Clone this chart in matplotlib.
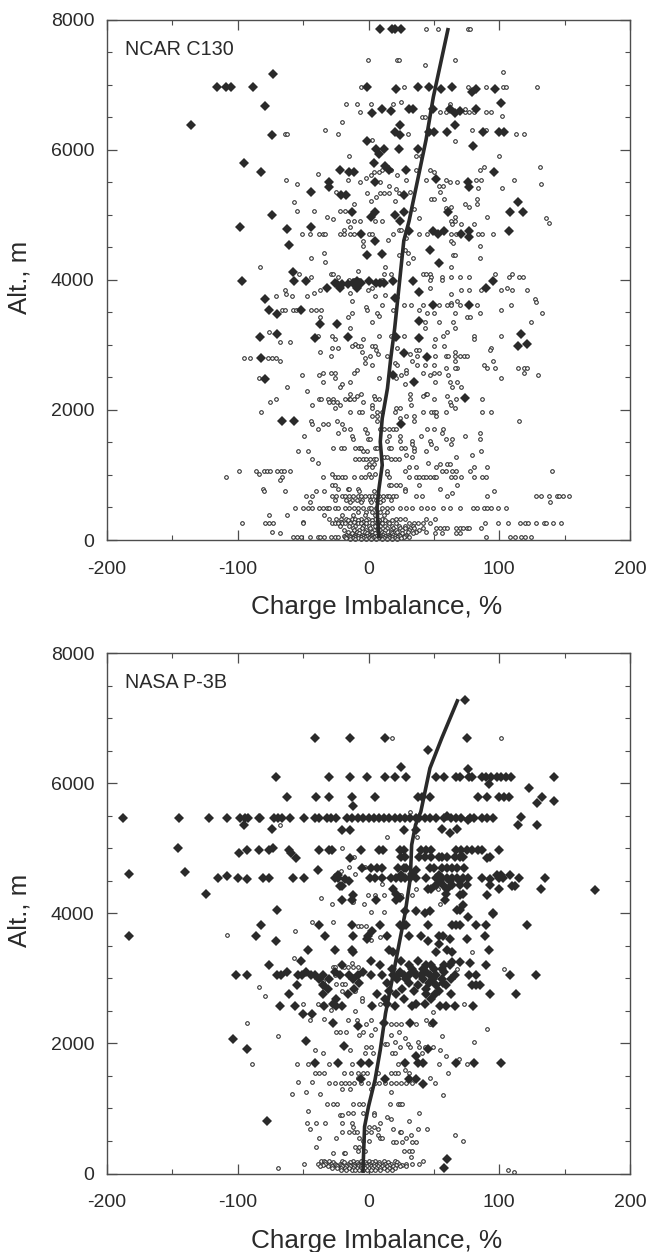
import matplotlib
import matplotlib.pyplot as plt
from matplotlib.ticker import MultipleLocator

matplotlib.use("Agg")

plt.rcParams["font.family"] = ["Liberation Sans", "DejaVu Sans"]
plt.rcParams["axes.unicode_minus"] = False

X_TICKS = [-200, -100, 0, 100, 200]
Y_TICKS = [0, 2000, 4000, 6000, 8000]
DARK = "#2a2a2a"
AXIS_GREY = "#4d4d4d"

# fitted profile lines, (charge imbalance, altitude)
c130_line_x = [8, 6.5, 8, 10.5, 9, 10.5, 14.5, 17, 20, 24, 27, 31, 44, 49.6, 61]
c130_line_alt = [25, 490, 790, 1150, 1510, 1870, 2330, 2790, 3250, 4020, 4600, 4900, 6150, 6810, 7870]
p3b_line_x = [-4.3, -3, 0, 5, 9, 13, 18.6, 24, 28, 32, 33, 36, 40, 47, 56, 68.5]
p3b_line_alt = [10, 720, 1030, 1440, 1900, 2460, 3030, 3590, 4000, 4540, 5050, 5360, 5560, 6230, 6690, 7290]

# rows of (altitude, [charge imbalance, ...])
c130_big_high = [
    (7850, [9, 18, 20, 24.5]), (7170, [-73]), (6955, [-116, -109, -105, -88, -1, 38, 46, 64]),
    (6935, [21, 55.5, 82, 96.5]), (6890, [79]), (6720, [101]), (6670, [-79]),
    (6630, [10, 31, 34, 49, 62, 82]), (6600, [17, 70]), (6570, [3, 66]), (6380, [-136, 24, 66]),
    (6270, [20, 46, 50, 60, 87.5, 99.5, 103.5]), (6225, [-74, 24]), (6135, [-1]), (6055, [80]),
    (6010, [5.4, 12, 23, 38]), (5940, [8.4]), (5800, [-95, 4]), (5750, [13]),
    (5690, [-22, 16, 29]), (5660, [-82, -15, -11, 96]), (5550, [52]), (5510, [-30, 5, 76]),
    (5420, [-30, 77]), (5350, [-44]), (5310, [-21, -17, 27]), (5190, [114]),
    (5045, [-13, 5, 27, 61, 108.6, 118]), (5000, [-74, 20]), (4970, [2]), (4900, [24]),
    (4810, [-98, -44]), (4780, [-62]), (4755, [31, 49, 58, 76.5, 107.5]), (4710, [-6, 53, 71]),
    (4650, [77]), (4600, [5]), (4530, [-61]), (4460, [47]), (4400, [10]), (4380, [-1]),
    (4260, [54]), (4120, [-58]),
]
c130_big_low = [
    (3985, [-97, -57, -48, -9, 0.5, 18.6, 34, 95]), (3955, [-26, 9, 6, 12, -12, -6]), (3870, [-32, -22, -9, 90]),
    (3930, [-20, -24, -16]), (3815, [39]), (3720, [20]), (3700, [-79]), (3605, [49, 77]), (3540, [-76, -52]),
    (3480, [-70]), (3370, [39]), (3325, [-37, -24]), (3165, [-70, 117]), (3125, [-83, -16, 21]),
    (3100, [-41, 39]), (3010, [121]), (2985, [114]), (2880, [27]), (2805, [45]), (2790, [-82]),
    (2535, [19]), (2480, [-79]), (2430, [35]), (2185, [74]), (1825, [-66, -57]), (1790, [25]),
]
c130_small_high = [
    (7850, [44, 53, 76, 78]), (7385, [-0.5, 22, 23, 66]), (7295, [43]), (7200, [103]),
    (6970, [-6, 27, 76, 90, 103, 105, 129]), (6700, [-17, -9, 2, 19, 62]), (6730, [25]),
    (6575, [-6.5, 55, 59, 74, 77, 81, 90, 94]), (6620, [74]), (6520, [102]), (6495, [41, 43]),
    (6420, [-20]), (6300, [-33, 79, 90]), (6245, [-23, -64, -62, 30, 113, 119]), (6150, [3]),
    (6130, [66]), (5900, [-15, 36, 40, 100]), (5740, [131, 88]), (5690, [85, 47, 36, 10.5, 17]),
    (5660, [8, 50, 4]), (5630, [-38.5]), (5610, [2, 22]), (5565, [-2]),
    (5540, [-63, -16, 29, 44, 59, 82, 86, 111]), (5510, [-6.5, 9, 62, 68]),
    (5470, [-55, 132]), (5440, [16, 54, 57]), (5415, [102, 84]), (5390, [21]),
    (5355, [-25, 55, 32]), (5335, [-1, 9, 12, 16, 23]), (5275, [6]), (5235, [48, 50, 58, 83]),
    (5210, [2, 20]), (5190, [-57]), (5160, [-11, 83, 74]), (5120, [76.5, 63]), (5110, [59]),
    (5080, [35]), (5050, [-55, -42, -22, -18]), (4970, [-32, 90.5, 66]), (4945, [39, 136]),
    (4930, [-27]), (4900, [-16, -11, -6.5, 5, 10.5, 63, 66]), (4870, [138]),
    (4855, [63.5, 71, 81]), (4810, [-14]), (4770, [-19, 23, 25]),
    (4705, [-51, -45, -38, -35, -33, -22, -19, -14, -11, 0, 3, 19, 39, 45, 63, 67, 84, 86.5, 95.5]),
    (4640, [29]), (4610, [15]), (4590, [-4, 63]), (4570, [65]), (4515, [-4, 85]), (4450, [28]),
    (4410, [-34, 30]), (4375, [23, 65, 66]), (4340, [-44, 85, 34]), (4280, [-33]),
    (4260, [30]), (4200, [-83, 13, 63]), (4130, [-8]),
    (4090, [-53, -29, -27, 12, 17, 41.5, 44, 47, 97, 110]),
    (4040, [-44, -23, 48, 56, 63, 70, 76.5, 107.5, 115, 118]), (4000, [-15, -11, -7, 10]),
]
c130_small_mid = [
    (3990, [47, 56]), (3875, [2.4, 47, 106]), (3840, [-64, -37, 71, 76.5, 86, -0.3, 101.5, 110, 121]),
    (3780, [-63, 63]), (3750, [-71, -58.7, -47, 5]), (3790, [-42, -14]), (3770, [13]),
    (3700, [127]), (3675, [-13, 68]), (3660, [128]), (3635, [63]),
    (3605, [10, 27, 32.6, 41.5, 54, 60, 63, 70, 83, 109]), (3575, [-1.6]),
    (3535, [-66, -63.6, -58, -55.5, -44, -40, -36, -1, 19, 39, 101.5]),
    (3490, [6.5, 45, 50, 85, 66, -13, 133]), (3445, [8]), (3420, [-37, -16, 75, 78]),
    (3350, [3, 54, 65, 124, 43]), (3260, [-14, 43, 66]), (3200, [-76, 60]),
    (3140, [-38.5, -28, 17, 57, 101.5, 81, 8, 27]), (3090, [-26, -4, 51, 80.5]),
    (3045, [-68, -60]), (3020, [-10]), (2985, [-13, -8, -6, 2.4, 5, 50, 58]),
    (2955, [-28, -23, 22, 94]), (2925, [5.6, 36, 39, 93]), (2885, [-37, -5, 66]),
    (2855, [7, 32]), (2835, [-29, 1, 14, 37, 51, 59, 61, 66, 70, 73, 75]),
    (2795, [-95, -91, -77, -74, -71, -3]), (2755, [-68, 33, 66, 95]),
    (2715, [20, -2.4]), (2690, [3, 37, 43, 50, 88, 22]),
    (2645, [68, 91, 97, 114, 119, 121, 66, 59]), (2610, [-9, 29]),
    (2560, [-35, -29, -26, -11, 41.5, 50, 54, 29, 119]), (2530, [-51, -38, 47, 61, 25, 130]),
    (2490, [-84, -26, 8, 21, 101]), (2435, [-35, -14, 51, 62, 68]), (2400, [-20, 28]),
    (2355, [-62, -22, 64, 71]), (2290, [-47]),
]
c130_small_low = [
    (2245, [-14, -6, 32, 44, 45]), (2215, [-9, 4, 41.5, 60]),
    (2170, [-71, -38, -36, -31, -27, -18, -15, -14, -11, 5, 8, 31.5, 50, 67, 87]),
    (2115, [-75, -30, -27, -24, -4, 62]), (2075, [-43, -22, 3, 32.6, 63]),
    (2030, [-26, 21, 24, 66, 3]), (1975, [-82, -14, -7, -5, 6.5, 10, 20, 41.5, 47.7, 50, 51.5, 59, 87, 94]),
    (1900, [6.5, 29, 35, 51.5, 3]), (1870, [24]), (1825, [-44, -24, 6.5, 35, 115]),
    (1780, [-43, -31, -35, -20]), (1705, [-39, -18.6, -14, -3, 9, 12, 16, 18.6, 21, 45, 50, 57]),
    (1640, [-23, -1, 56, 85]), (1595, [-49, -13, 16, 24, 40, 74]), (1555, [-12, -0.3, 1, 85, 59, 64]),
    (1525, [14.5, 24, 33, 47]), (1480, [33, 48, 63]),
    (1420, [-27, -21, -19, -10, -7, -5.7, 4.6, 6.5, 16, 17, 25, 28, 35, 52]),
    (1375, [-54, -46, -4, -1, 35, 44, 86]), (1300, [29, 79]), (1270, [12, 14.5, 33, 67]),
    (1240, [-43, -10, -7, -4, -1.6, 1, 4, 6, 17, 20, 23]), (1190, [-38.5, 45.5]),
    (1170, [0, 4, 55, 60, 62]), (1125, [-2, 2.4, 31, 36, 52, 81, 91]),
    (1065, [-99, -86, -80, -78, -75, -70, -67, -65, -60, 14.5, 28, 59, 64, 67, 56, 78, 140]),
    (1010, [-84, 0, 5, -28, 14.5]),
    (975, [-109, -66, -35, -26, -23, -20, -18, -11, -6, -3, 2, 16, 31, 36, 39, 41.5, 44, 47, 50, 52, 63, 66, 71, 80.5, 87, 90]),
    (920, [-68]), (850, [-28, -26, 16, 17.5, 21, 24, 39, 68]),
    (790, [-81, -23, -16, -15, -8, 28, 55]), (760, [-80, -64, -40, -34, -7, 4, 28, 96]), (720, [64]),
    (670, [-48, -43, -28, -24.5, -20, -18, -15, -12, -8, -5.5, -3, 0, 3, 5, 8, 11, 14.5, 16, 19, 21, 36, 41, 60, 91, 128, 132, 138, 144, 146, 149, 153]),
    (620, [-26, -17, -13, -9, -5, 1, 6, 11, 17]),
    (580, [-45, 139, -14, -6, 2, 9]),
    (490, [-56, -50, -46, -43, -38, -35, -32, -30, -26, -23, -18, -15, -11, -8, -4, 0, 2, 6, 10, 14, 18, 24, 29, 33, 40, 45, 49, 57, 62, 70, 80, 83, 88, 91, 94, 99, 105]),
    (425, [-8, -2, 3, 9, 14]),
    (380, [-76, -62, -34, 12, -20, -12, -3, 5]),
    (330, [-30, -25, -21, -17, -13, -10, -6, -0.5, 5, 10, 21, 24, 28, 44, 51]),
    (300, [-16, -8, -2, 3, 8, 13, 18]),
    (280, [-50, -21, -11, -4, 7, 15]),
    (255, [-97, -79, -76, -73, -50, -28, -26, -23, -20, -18, -14, -8, -6, -2, 2.4, 6.5, 10.5, 16, 21, 31, 35, 38, 42, 47, 89, 99, 107, 116, 120, 122, 128, 134, 136, 141, 147]),
    (215, [-22, -15, -10, -4, 0, 5, 9, 13, 18, 23, 28, 34]),
    (180, [-12, -5, 1, 7, 14, 19, 24, 28, 32, 35, 42, 52, 55, 58, 60, 67, 70, 72, 75, 77, 86]),
    (155, [-19, -11, -7, -2, 4, 9, 13, 17, 21, 26, 31, 39]),
    (130, [-74, -16, -9, -3, 3, 10, 17, 22, 30, 36, 44]),
    (100, [-68, -13, -7, -1, 5, 12, 18, 26, 34, 51, 56, 67, 70]),
    (80, [-17, -10, -5, 0, 3, 7, 11, 15, 19, 23, 29]),
    (65, [-19, -15, -11, -8, -4, -1, 2, 6, 9, 13, 16, 20, 24, 28]),
    (40, [-58, -55, -52, -45, -39, -37, -34, -29, -26, -23, -18, -14, -10, -6, -3, 1, 4, 8, 11, 15, 18, 22, 27, 31, 90, 108, 112, 117, 120, 124]),
    (25, [-17, -12, -8, -4, 0, 3, 7, 12, 16, 20, 25]),
    (15, [-14, -10, -6, -2, 2, 6, 10, 14, 18, 22]),
]

p3b_big_high = [
    (7280, [73.6]), (6700, [-41, -14, 13, 75]), (6510, [45.5]), (6250, [25]), (6215, [76]),
    (6100, [-71, -30, -14, -1, 13, 20, 29, 51.5, 58, 67, 70, 76.5, 79, 86.5, 90, 94, 98, 101, 105, 109, 142]),
    (5980, [92]), (5920, [123]), (5785, [-62, -40, -30, -13, 4.6, 38, 41, 47, 84, 90.5, 100, 103.5, 107.5, 133]),
    (5730, [142]), (5690, [129]), (5650, [-11.6]), (5500, [60]), (5480, [117]),
    (5470, [-188, -145, -122, -108.6, -98.6, -94.6, -92, -84, -83, -72.5, -69, -66, -60, -49, -41, -38, -32, -28.6, -24.5, -16.4, -12.4, -8, -4, 0, 4, 8, 12, 16, 20, 24, 28, 32, 36, 39, 43, 47, 52, 58, 63, 67, 71, 78, 80.6, 87, 91, 95]),
    (5430, [76]), (5360, [114, 128.6]), (5350, [-95]), (5300, [-74, 56, 68]), (5280, [-20, -14, 27, 36]),
    (5230, [62]), (5000, [-146, -73]),
    (4965, [-93, -84, -76, -61, -37.5, -30, -28, -6, 8, 11, 24, 27, 40, 44, 48, 67, 71, 75, 79, 84, 87, 100]),
    (4930, [-99, -59]), (4870, [25, 28, 39, 43, 48, 54, 56, 60, 66, 70, 72, 92.7]),
    (4845, [-55.5, -14, 91]), (4700, [-5, 2, 6.5, 10.5, 22.6, 27, 29, 47, 50, 56, 60, 64, 68, 73]),
    (4660, [36, -38.5]), (4640, [-140]), (4610, [33]), (4600, [-183]), (4585, [-23, 25, 54, 98, 101, 108]),
    (4570, [-108]),
    (4540, [-115, -100, -81, -76, -58, -49, -26, -23, 1, 5, 10.5, 17, 21, 25, 28, 32, 36, 44, 52, 56, 60, 64, 68, 72.5, 76, 87, 99.5, 103, 115, 135]),
    (4520, [-92.7, -18, 92.7]), (4490, [-15, 55, 62, 70]), (4440, [70, 93, 64, 75, 52]), (4415, [-22, -20, 58, 110, 112]),
    (4375, [48, 45.5, 60, 100, 18.6, 132]), (4350, [173]), (4300, [-124, 21, 59, 72]), (4280, [-12, 70, 91]),
    (4240, [24]), (4200, [-13, -20, 5.6, 21, 58.5]), (4130, [72.5]), (4055, [-70, 68, 70]),
    (4040, [28, 36, 47]), (4000, [43, 95]),
]
p3b_big_low = [
    (3990, [95]), (3940, [76]), (3815, [-82, -37.5, -13, 9, 24, 27, 29, 45.5, 64, 67, 70, 82, 89.5, 121]),
    (3720, [2.4]), (3650, [-183.5, -86, -33, -12, -0.3, 14.5, 31, 40, 53.6, 57, 89]),
    (3610, [-1.3, 62, 75]), (3570, [-71, 45.5]), (3530, [53.6]),
    (3435, [-46, -26, -13, 16, 60, 92]), (3400, [-12, 19, 64, 51.5]), (3270, [-51.5, 1.6, 25, 37.5]),
    (3210, [-76, -20, 9, 31, 44, 48, 58, 62, 90]), (3250, [64, 70]), (3230, [78]), (3150, [56, 33, 42, 18, 50]),
    (3100, [-62, -48, -26, -4, 24, 35, 44, 58]),
    (3050, [-101, -93, -70, -67, -54, -51, -44, -41, -34.5, -22, -15, -8, 1.6, 10.5, 19, 22.6, 27, 31, 36, 40, 47, 52, 66, 76.5, 82, 108, 128]),
    (2990, [-38, -30, -12, 22, 29, 42, 49, 56, 63]),
    (2930, [-7, 31, 14, 46, 57]), (2890, [-35, -55, 38, 52, 59, 79, 82, 85]), (2840, [-31, -11, 26, 44]), (2800, [16, 35, 54]),
    (2760, [-61, -35, -16, 6.5, 21, 44, 51, 63, 93, 113]),
    (2680, [-25, 13, 27, 48]),
    (2600, [-27, 14.5, 36, 43]), (2570, [-68, -56, -34, -24.5, -20, 3, 20, 33, 55, 59, 66, 80]),
    (2455, [-50, -43]), (2320, [-27, 12, 32, 49.5]), (2260, [-8]), (2060, [-104]), (2030, [-48]),
    (1960, [-19]), (1910, [-93, 45.5]), (1800, [36]), (1700, [-41, -23, -6, 0.5, 28, 37.5, 41.5, 67, 81, 101]),
    (1460, [-6, 13, 31, 36]), (1380, [41.5]), (800, [-77.6]), (230, [60]), (80, [58]),
]
p3b_small_high = [
    (6700, [18, 101.6]), (5550, [32]), (5350, [-67.6]), (5170, [14.5, 37]), (5010, [-20]),
    (4870, [-11]), (4710, [-15, -3]), (4650, [-21]), (4600, [-10]), (4450, [10]), (4370, [36, 53]),
    (4275, [-0.3, 12, 5, 33, 25]), (4230, [-36.6]), (4170, [-12]), (4135, [-28, -3.5, 55]),
    (4015, [1.6, 12]), (3870, [-43, -27]), (3810, [-8, -5.6, -2]), (3730, [-56]), (3660, [-108.6]),
    (3630, [9]), (3590, [2]), (3410, [79]), (3310, [-57]), (3240, [-13]),
    (3180, [-27, -26, -19, -16, -12, -8]), (3145, [68, 103.5]), (3050, [-26]), (2960, [-35]),
    (2920, [-34, -25, -20, -18]), (2870, [-84]), (2810, [-10.5]), (2800, [-20]), (2730, [-79]),
    (2700, [-5]), (2650, [-5]), (2600, [-50, -39, -35, 9, 73]), (2510, [-29]), (2500, [-10]),
    (2480, [49]), (2370, [-34]), (2360, [-45, -16, -9, 1.6, 44]), (2320, [-93]),
    (2305, [-2, 17, 21, 25, 36, 47]), (2220, [5, 91]),
]
p3b_small_low = [
    (2180, [-25, -22, -17, -4, 23]), (2135, [-7, 2, 17]), (2110, [-69.5, 56]), (2080, [28]),
    (2020, [38, 20, 81]), (1990, [30, 12.7, 14.5]), (1950, [39, 43, 49.6, -2, 1.6, 24, 31.5]),
    (1895, [-41, -14, 55]), (1850, [-35, -3, 3.8, 18, 20, 41]), (1800, [59]), (1760, [69]),
    (1680, [-89, -55, -46.6, -30, -13, 22.6, 53.6, 75.7]), (1590, [28]),
    (1545, [-41, -38, -34, -18.6, -13.5, -8, -4, -1, 7, 17, 20, 22.6, 31, 61]),
    (1470, [-8, 31, 47]), (1410, [-54, -43]),
    (1385, [-30, -26, -21, -18, -15, -11, -6, -0.5, 5, 8, 13, 17, 21, 25, 29, 33, 51]),
    (1300, [-20, -14, 2]), (1255, [17, -48]), (1215, [-37, -58.5]), (1200, [57]),
    (1075, [-32, -27, -24, -12, -7, -4, 16.4, 22.6, 24, 25.5]), (960, [-46]),
    (930, [-16, -12, 39, -4, 4]), (895, [-22, -20, 4]), (870, [14]), (840, [17]), (810, [31]),
    (770, [-47, -40, -33.4, -20, -13, 9]), (720, [-12, 0, 4]), (680, [-45, 7, 18.6, 37.5, 45]),
    (640, [-20, -15, -11, -9, -2, 2, 24, 25]), (590, [7.5, 32.6, 66]), (540, [-37.5, -25, -7, 9, 10.5, 29]),
    (500, [72, -4, 0]), (480, [18.6, 21, 26, 33.5, 36]), (400, [-40, -10.5, -7]), (350, [-3, -8, 27, 31, 33.5]),
    (320, [-27, -19, -18]), (260, [32.6]), (195, [-36, -34, -30, -20, -12, -6, 0, 5, 12, 20, 41.5]),
    (170, [-33, -27, -19, -14, -9, -3, 3, 8, 15, 22]),
    (150, [-49, -39, -33, -29, -26, -22, -16, -11, -8, -5, -2, 1, 4, 8, 13, 17, 23, 29, 39, 33]),
    (130, [-35, -30, -25, -21, -15, -12, -7, -4, 0, 6, 11, 16, 21, 26]),
    (110, [-37, -31, -28, -24, -20, -17, -14, -11, -8, -6, -3, -1, 2, 4, 7, 10, 14, 19, 24, 29]),
    (85, [-69, -28, -24, -21, -18, -15, -12, -9, -6, -3, 0, 3, 6, 9, 12, 16, 20]),
    (50, [-21, -17, -13, -10, -7, -4, -1, 2, 5, 9, 14, 18, 107]), (25, [111]),
]

c130_big = c130_big_high + c130_big_low
c130_small = c130_small_high + c130_small_mid + c130_small_low
p3b_big = p3b_big_high + p3b_big_low
p3b_small = p3b_small_high + p3b_small_low


def flatten(rows):
    xs, alts = [], []
    for alt, values in rows:
        for v in values:
            xs.append(v)
            alts.append(alt)
    return xs, alts


def draw_panel(ax, small, big, line_x, line_alt, name):
    xs, alts = flatten(small)
    ax.plot(xs, alts, "o", ms=2.6, mfc="white", mec=DARK, mew=0.75, clip_on=False, ls="none")
    xs, alts = flatten(big)
    ax.plot(xs, alts, "D", ms=5.0, color=DARK, mew=0, clip_on=False, ls="none")
    ax.plot(line_x, line_alt, color=DARK, lw=2.6, solid_capstyle="butt")

    ax.set_xlim(-200, 200)
    ax.set_ylim(0, 8000)
    ax.set_xticks(X_TICKS)
    ax.set_yticks(Y_TICKS)
    ax.xaxis.set_minor_locator(MultipleLocator(50))
    ax.yaxis.set_minor_locator(MultipleLocator(500))
    ax.tick_params(which="major", direction="in", top=True, right=True, length=7.5, width=0.9,
                   color=AXIS_GREY, labelsize=14, labelcolor=DARK)
    ax.tick_params(which="minor", direction="in", top=True, right=True, length=3.5, width=0.8,
                   color=AXIS_GREY)
    ax.tick_params(axis="x", which="major", pad=15)
    ax.tick_params(axis="y", which="major", pad=9)
    for spine in ax.spines.values():
        spine.set_color(AXIS_GREY)
        spine.set_linewidth(1.0)
    ax.set_xlabel("Charge Imbalance, %", fontsize=18.8, color=DARK)
    ax.xaxis.set_label_coords(0.516, -0.106)
    ax.set_ylabel("Alt., m", fontsize=18.6, color=DARK)
    ax.yaxis.set_label_coords(-0.145, 0.505)
    ax.text(-186, 7545, name, fontsize=14.2, color=DARK, va="center")


fig = plt.figure(figsize=(6.48, 12.52), dpi=100)
ax_top = fig.add_axes([107 / 648, 712 / 1252, 523 / 648, 520.5 / 1252])
ax_bot = fig.add_axes([107 / 648, 78.5 / 1252, 523 / 648, 520.5 / 1252])

draw_panel(ax_top, c130_small, c130_big, c130_line_x, c130_line_alt, "NCAR C130")
draw_panel(ax_bot, p3b_small, p3b_big, p3b_line_x, p3b_line_alt, "NASA P-3B")

fig.savefig("out.png", dpi=100)
